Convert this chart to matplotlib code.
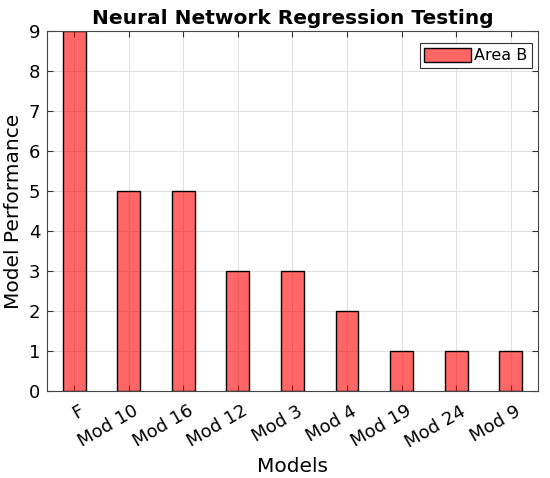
import matplotlib
matplotlib.use("Agg")
import matplotlib.pyplot as plt
import matplotlib.transforms as mtransforms
import numpy as np

models = ['F', 'Mod 10', 'Mod 16', 'Mod 12', 'Mod 3', 'Mod 4', 'Mod 19', 'Mod 24', 'Mod 9']
area_b = [9, 5, 5, 3, 3, 2, 1, 1, 1]

x = np.arange(1, len(models) + 1)

fig = plt.figure(figsize=(5.5, 4.78), dpi=100)
ax = fig.add_axes([0.0855, 0.182, 0.8925, 0.753])
ax.set_axisbelow(True)

ax.bar(x, area_b, width=0.42, facecolor=(1, 0, 0, 0.6), edgecolor='black',
       linewidth=1, label='Area B')

ax.set_xlim(0.5, len(models) + 0.5)
ax.set_ylim(0, 9)
ax.set_xticks(x)
ax.set_xticklabels(models, fontsize=13)
ax.set_yticks(range(0, 10))
ax.tick_params(axis='y', labelsize=13, pad=5)
ax.tick_params(axis='x', pad=8)
ax.tick_params(direction='in', top=True, right=True, length=4, color='#333333')

# rotated labels anchored at their top-right corner, a bit right of the tick
shift = mtransforms.ScaledTranslation(4 / 100, 0, fig.dpi_scale_trans)
for lab in ax.get_xticklabels():
    lab.set_rotation(30)
    lab.set_ha('right')
    lab.set_va('top')
    lab.set_rotation_mode('anchor')
    lab.set_transform(lab.get_transform() + shift)

ax.grid(True, color='#e0e0e0', linewidth=0.7)
for s in ax.spines.values():
    s.set_color('#444444')

ax.set_title('Neural Network Regression Testing', fontsize=14.5, fontweight='bold', pad=5)
ax.set_xlabel('Models', fontsize=14.5, labelpad=4)
ax.set_ylabel('Model Performance', fontsize=14.5)

leg = ax.legend(loc='upper right', bbox_to_anchor=(0.988, 0.967), borderaxespad=0,
                fontsize=11.5, fancybox=False, edgecolor='#333333',
                handlelength=2.9, handleheight=1.0, handletextpad=0.2,
                borderpad=0.3, framealpha=1)
leg.get_frame().set_linewidth(0.8)

fig.savefig('out.png', dpi=100)
